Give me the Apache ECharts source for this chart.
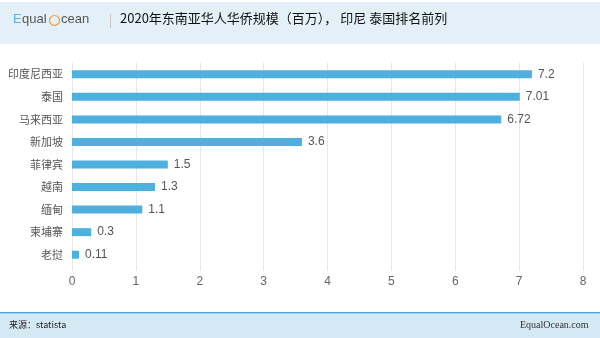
<!DOCTYPE html>
<html><head><meta charset="utf-8">
<script src="https://cdn.jsdelivr.net/npm/echarts@6/dist/echarts.min.js"></script>
<style>html,body{margin:0;padding:0;background:#fff}#c{width:600px;height:338px}</style>
</head><body><div id="c"></div>
<script>
const categories = ['印度尼西亚','泰国','马来西亚','新加坡','菲律宾','越南','缅甸','柬埔寨','老挝'];
const values = [7.2, 7.01, 6.72, 3.6, 1.5, 1.3, 1.1, 0.3, 0.11];
const valueLabels = ['7.2','7.01','6.72','3.6','1.5','1.3','1.1','0.3','0.11'];
const titleText = '2020年东南亚华人华侨规模（百万）， 印尼 泰国排名前列';
const sourceText = '来源：statista';
const siteText = 'EqualOcean.com';

const chart = echarts.init(document.getElementById('c'));
const font = '"Noto Sans CJK SC", "Noto Sans", sans-serif';
const latin = '"Liberation Sans", Arial, sans-serif';
chart.setOption({
  animation: false,
  backgroundColor: '#fff',
  grid: {left: 72, right: 17, top: 63, bottom: 72, containLabel: false},
  xAxis: {
    type: 'value', min: 0, max: 8, interval: 1,
    axisLine: {show: false},
    axisTick: {show: true, length: 5, lineStyle: {color: '#e3e3e3'}},
    splitLine: {show: true, lineStyle: {color: '#e6e6e6', width: 1}},
    axisLabel: {color: '#666', fontSize: 12, fontFamily: latin, margin: 10}
  },
  yAxis: {
    type: 'category', data: categories, inverse: true,
    axisLine: {show: false}, axisTick: {show: false},
    axisLabel: {color: '#555', fontSize: 11, fontFamily: font, margin: 9}
  },
  series: [{
    type: 'bar', data: values, barWidth: 8,
    itemStyle: {color: '#4db0de'},
    label: {show: true, position: 'right', distance: 6, color: '#555', fontSize: 12, fontFamily: latin,
      formatter: p => valueLabels[p.dataIndex]}
  }],
  graphic: [
    {type: 'rect', shape: {x: 0, y: 2, width: 600, height: 42}, style: {fill: '#e4f0f7'}, z: -1},
    {type: 'text', x: 13, y: 13, style: {text: 'E', fill: '#5ab3df', font: '13px ' + latin}},
    {type: 'text', x: 22, y: 13, style: {text: 'qual', fill: '#555', font: '13px ' + latin}},
    {type: 'circle', shape: {cx: 54.5, cy: 20.5, r: 5}, style: {fill: 'none', stroke: '#f2a043', lineWidth: 1.2}},
    {type: 'text', x: 61, y: 13, style: {text: 'cean', fill: '#555', font: '13px ' + latin}},
    {type: 'rect', shape: {x: 110, y: 14, width: 1, height: 14}, style: {fill: '#c8c8c8'}},
    {type: 'text', x: 120, y: 12, style: {text: titleText, fill: '#111', font: '13px ' + font}},
    {type: 'rect', shape: {x: 0, y: 312, width: 600, height: 1.5}, style: {fill: '#4aa3d6'}},
    {type: 'rect', shape: {x: 0, y: 314, width: 600, height: 24}, style: {fill: '#d4e9f4'}, z: -1},
    {type: 'text', x: 9, y: 320, style: {text: sourceText, fill: '#222', font: '9px ' + font}},
    {type: 'text', x: 520, y: 320, style: {text: siteText, fill: '#333', font: '10px "Liberation Serif", serif'}}
  ]
});
</script></body></html>
